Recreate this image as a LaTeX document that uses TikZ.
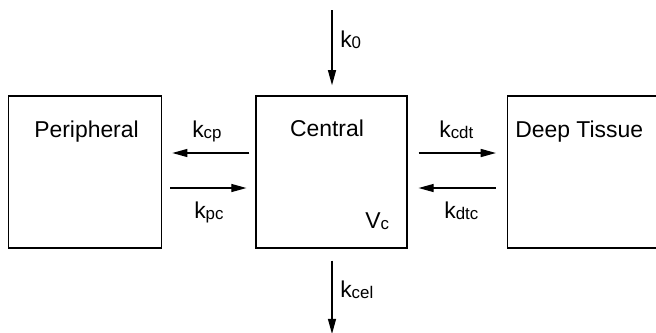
\documentclass[tikz,border=0pt]{standalone}
\usepackage{fontspec}
\setmainfont{Liberation Sans}
\usetikzlibrary{arrows.meta, positioning, calc}

\newcommand{\ratek}[2]{#1\raisebox{-1.4pt}{\fontsize{12}{13}\selectfont #2}}

\begin{document}
\begin{tikzpicture}[
    x=0.025cm, y=-0.025cm,
    every node/.style={font=\fontsize{16.3}{19}\selectfont},
    compartment/.style={rectangle, draw, line width=1pt, minimum height=3.8cm, minimum width=#1, inner sep=0pt},
    lbl/.style={anchor=base west, inner sep=0pt},
    cname/.style={anchor=base, inner sep=0pt},
    flow/.style={-{Triangle[length=0.38cm, width=0.2cm]}, line width=1pt}
]
\useasboundingbox (0,0) rectangle (656,332);

\node[compartment=3.775cm] (central) at (331.5,172) {};
\node[compartment=3.825cm, left=2.325cm of central] (periph) {};
\node[compartment=3.975cm, right=2.475cm of central] (deep) {};

\node[cname] (periphname) at (86.5,137.5) {Peripheral};
\node[cname] (centralname) at (327,136.5) {Central};
\node[cname, anchor=base west] (deepname) at (515,137) {Deep Tissue};

% dose in and elimination
\coordinate (dose) at (332,10);
\coordinate (elim) at (332,334);
\draw[flow, shorten >=0.25cm] (dose) -- (dose |- central.north);
\draw[flow, shorten <=0.3cm] (elim |- central.south) -- (elim);

% exchange
\draw[flow, shorten <=0.15cm, shorten >=0.25cm] ([yshift=0.475cm]central.west) -- ([yshift=0.475cm]periph.east);
\draw[flow, shorten <=0.2cm, shorten >=0.22cm] ([yshift=-0.4cm]periph.east) -- ([yshift=-0.4cm]central.west);
\draw[flow, shorten <=0.27cm, shorten >=0.27cm] ([yshift=0.475cm]central.east) -- ([yshift=0.475cm]deep.west);
\draw[flow, shorten <=0.27cm, shorten >=0.27cm] ([yshift=-0.4cm]deep.west) -- ([yshift=-0.4cm]central.east);

\node[lbl] (k0) at (340,47) {\ratek{k}{0}};
\node[lbl] (kcel) at (340,297) {\ratek{k}{cel}};
\node[lbl] (vc) at (365,228) {\ratek{V}{c}};
\node[lbl] (kcp) at (192,137) {\ratek{k}{cp}};
\node[lbl] (kpc) at (194,218) {\ratek{k}{pc}};
\node[lbl] (kcdt) at (439,137) {\ratek{k}{cdt}};
\node[lbl] (kdtc) at (444,218) {\ratek{k}{dtc}};

\end{tikzpicture}
\end{document}
